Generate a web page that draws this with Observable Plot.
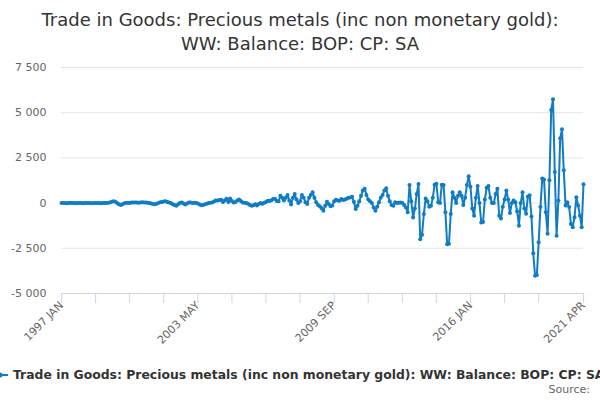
<!DOCTYPE html>
<html><head><meta charset="utf-8">
<script src="https://cdn.jsdelivr.net/npm/d3@7"></script>
<script src="https://cdn.jsdelivr.net/npm/@observablehq/plot@0.6"></script>
<style>
body{margin:0;background:#fff;font-family:"DejaVu Sans",sans-serif;}
#wrap{position:relative;width:600px;height:400px;overflow:hidden;background:#fff;}
#title{position:absolute;top:8px;left:0;width:600px;text-align:center;font-size:18px;color:#333;line-height:24px;}
#chart{position:absolute;top:55px;left:0;}
#legend{position:absolute;top:367px;left:-8px;white-space:nowrap;font-size:12.4px;font-weight:bold;color:#333;display:flex;align-items:center;}
#source{position:absolute;right:10px;top:383px;font-size:11px;color:#666;}
</style>
</head><body>
<div id="wrap">
  <div id="title"></div>
  <div id="chart"></div>
  <div id="legend"></div>
  <div id="source"></div>
</div>
<script>
const titleLines = ["Trade in Goods: Precious metals (inc non monetary gold):", "WW: Balance: BOP: CP: SA"];
const seriesName = "Trade in Goods: Precious metals (inc non monetary gold): WW: Balance: BOP: CP: SA";
const sourceText = "Source:";
const startYear = 1997;
const monthNames = ["JAN","FEB","MAR","APR","MAY","JUN","JUL","AUG","SEP","OCT","NOV","DEC"];
const values = [
10,5,0,-5,10,15,5,0,-10,5,10,0,-5,5,10,0,5,-5,0,10,5,0,-10,5,0,10,20,
40,80,100,70,0,-60,-110,
-60,-10,10,20,10,30,40,30,40,20,40,50,40,30,20,0,-20,-50,-60,-40,
10,50,60,90,100,60,30,
0,-60,-110,-140,-60,10,30,-20,-80,-20,
40,30,10,20,0,-20,-80,-120,-100,-60,
-30,0,20,40,90,150,140,170,190,60,150,
240,60,250,120,30,60,150,200,120,40,20,0,
-30,-100,-150,-120,-60,-130,-50,0,-30,20,
60,130,120,160,220,240,120,100,400,300,
150,300,450,150,-80,300,500,200,0,100,
450,300,50,-50,300,450,600,300,50,-100,
-170,-280,-420,-150,70,-50,-170,-130,100,180,
150,130,220,170,200,240,300,310,350,80,
-330,-150,100,400,700,800,450,200,100,0,
-240,-420,-200,50,300,450,700,820,400,100,
-100,-150,50,0,20,30,0,-100,-250,-500,
1000,100,-800,-300,500,1050,-2000,-1750,-600,250,
100,-200,-150,300,1020,1070,50,0,1020,1000,
-500,-2280,-2250,-600,600,300,0,400,600,400,
-100,300,1000,1480,900,-300,-700,300,950,0,
-1070,-1050,200,850,950,300,0,0,500,800,
-700,-850,-200,200,700,200,-550,0,150,50,
-450,-1250,0,600,-300,-590,370,430,-740,-2780,
-4020,-3980,-2170,-220,1360,1300,-500,-1700,1260,5150,
5750,1720,-1800,150,3580,4080,1820,-130,50,-220,
-1150,-1330,-780,330,-130,-700,-1330,1040
];
const yTicks = [-5000,-2500,0,2500,5000,7500];
const xTickStep = 19;
const xLabelIdx = [0,76,152,228,291];
const lineColor = "#107cc3";

const monthLabel = i => `${startYear + Math.floor(i/12)} ${monthNames[i%12]}`;
const data = values.map((v,i) => ({i, v, label: monthLabel(i)}));
const last = values.length - 1;
const xTicks = d3.range(0, last - xTickStep, xTickStep).concat([last]);
const fmt = d3.formatLocale({decimal:".", thousands:" ", grouping:[3], currency:["",""], minus:"-"}).format(",");

document.getElementById("title").innerHTML = titleLines.join("<br>");
document.getElementById("source").textContent = sourceText;
document.getElementById("legend").innerHTML =
  `<svg width="16" height="12" style="margin-right:5px"><line x1="0" y1="6" x2="16" y2="6" stroke="${lineColor}" stroke-width="2"/><circle cx="8" cy="6" r="2.5" fill="${lineColor}"/></svg><span>${seriesName}</span>`;

const chart = Plot.plot({
  width: 600,
  height: 310,
  marginTop: 12,
  marginBottom: 72,
  marginLeft: 61,
  marginRight: 17,
  style: {fontFamily: "DejaVu Sans, sans-serif", fontSize: "11px", background: "#fff"},
  x: {type: "linear", domain: [0, last], label: null},
  y: {domain: [-5000, 7500], label: null},
  marks: [
    Plot.gridY(yTicks.filter(t => t > -5000), {stroke: "#e6e6e6", strokeOpacity: 1}),
    Plot.axisY({ticks: yTicks, tickSize: 0, tickPadding: 15, tickFormat: fmt, fill: "#666", fontSize: 11, label: null}),
    Plot.ruleY([-5000], {stroke: "#ccd6eb"}),
    Plot.axisX({ticks: xTicks, tickSize: 10, tickFormat: () => "", stroke: "#ccd6eb", strokeOpacity: 1, label: null}),
    Plot.axisX({ticks: xLabelIdx, tickSize: 0, tickPadding: 10, tickRotate: -45, tickFormat: i => monthLabel(i), fill: "#666", fontSize: 11, label: null}),
    Plot.line(data, {x: "i", y: "v", stroke: lineColor, strokeWidth: 2}),
    Plot.dot(data, {x: "i", y: "v", r: 2, fill: lineColor, stroke: "none"})
  ]
});
document.getElementById("chart").appendChild(chart);
</script>
</body></html>
